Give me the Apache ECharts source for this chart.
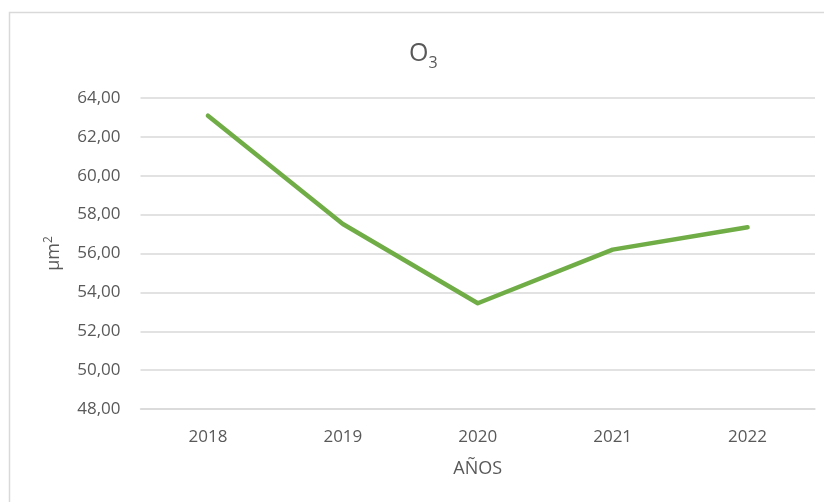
<!DOCTYPE html>
<html>
<head>
<meta charset="utf-8">
<script src="https://cdn.jsdelivr.net/npm/echarts@6/dist/echarts.min.js"></script>
<style>
html,body{margin:0;padding:0;background:#fff;}
#c{width:824px;height:502px;}
</style>
</head>
<body>
<div id="c"></div>
<script>
const categories = ['2018', '2019', '2020', '2021', '2022'];
const o3Values = [63.09, 57.52, 53.44, 56.20, 57.35];
const yTicks = [48, 64, 2];

const chart = echarts.init(document.getElementById('c'));
const font = '"Open Sans", "Liberation Sans", sans-serif';
chart.setOption({
  animation: false,
  backgroundColor: '#fff',
  graphic: [{
    type: 'polyline',
    shape: { points: [[9.5, 502], [9.5, 12.5], [824, 12.5]] },
    style: { stroke: '#d9d9d9', lineWidth: 1.5, fill: null },
    silent: true
  }],
  title: {
    text: 'O{s|3}',
    left: 404,
    top: 32,
    textStyle: {
      fontFamily: font, fontSize: 25, fontWeight: 'normal', color: '#595959',
      rich: { s: { fontFamily: font, fontSize: 16, color: '#595959', padding: [18, 0, 0, 0] } }
    }
  },
  grid: { left: 140.5, right: 9, top: 98, bottom: 93 },
  xAxis: {
    type: 'category',
    data: categories,
    name: 'AÑOS',
    nameLocation: 'middle',
    nameGap: 51,
    nameTextStyle: { fontFamily: font, fontSize: 18, color: '#595959' },
    axisLine: { show: true, lineStyle: { color: '#d9d9d9', width: 1.5 } },
    axisTick: { show: false },
    axisLabel: { fontFamily: font, fontSize: 17, color: '#595959', margin: 20 }
  },
  yAxis: {
    type: 'value',
    min: yTicks[0],
    max: yTicks[1],
    interval: yTicks[2],
    name: 'µm{s|2}',
    nameLocation: 'middle',
    nameRotate: 90,
    nameGap: 76,
    nameTextStyle: {
      fontFamily: font, fontSize: 18, color: '#595959',
      rich: { s: { fontFamily: font, fontSize: 12, color: '#595959', padding: [0, 0, 10, 0] } }
    },
    axisLine: { show: false },
    axisTick: { show: false },
    splitLine: { lineStyle: { color: '#d9d9d9', width: 1.5 } },
    axisLabel: {
      fontFamily: font, fontSize: 17, color: '#595959', margin: 20,
      formatter: v => v.toFixed(2).replace('.', ',')
    }
  },
  series: [{
    type: 'line',
    data: o3Values,
    symbol: 'none',
    lineStyle: { color: '#70AD47', width: 4.5, cap: 'round', join: 'round' },
    itemStyle: { color: '#70AD47' }
  }]
});
</script>
</body>
</html>
